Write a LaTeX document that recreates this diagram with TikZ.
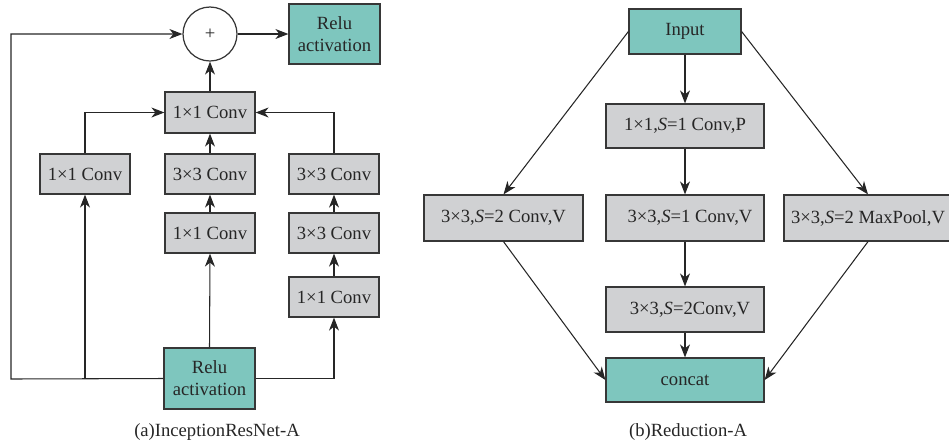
\documentclass[tikz,border=0pt]{standalone}
\usepackage{fontspec}
\setmainfont{Liberation Serif}
\usetikzlibrary{arrows.meta}
\definecolor{tealfill}{RGB}{126,198,190}
\definecolor{grayfill}{RGB}{208,209,211}
\definecolor{edge}{RGB}{55,55,55}
\begin{document}
\begin{tikzpicture}[x=0.02cm,y=-0.02cm,
  every node/.style={font=\fontsize{10.6}{12.5}\selectfont, inner sep=0pt, text=black!85},
  box/.style={draw=edge, line width=0.7pt, rectangle, align=center},
  graybox/.style={box, fill=grayfill},
  tealbox/.style={box, fill=tealfill},
  arr/.style={-{Stealth[length=2.6mm,width=2mm,inset=0.8mm]}, line width=0.6pt, draw=black!85}]
\useasboundingbox (0,0) rectangle (949,447);

% ---- (a) InceptionResNet-A ----
\node[draw=edge, line width=0.7pt, circle, minimum size=1.08cm, fill=white] (plus) at (210,34) {+};
\node[tealbox, minimum width=1.82cm, minimum height=1.2cm] (reluT) at (334.5,34) {Relu\\activation};
\node[graybox, minimum width=1.8cm, minimum height=0.82cm] (c1) at (210,112.5) {1×1 Conv};
\node[graybox, minimum width=1.8cm, minimum height=0.8cm] (b1) at (85,174) {1×1 Conv};
\node[graybox, minimum width=1.8cm, minimum height=0.8cm] (b2) at (210,174) {3×3 Conv};
\node[graybox, minimum width=1.8cm, minimum height=0.8cm] (b3) at (334,174) {3×3 Conv};
\node[graybox, minimum width=1.8cm, minimum height=0.8cm] (m2) at (210,233) {1×1 Conv};
\node[graybox, minimum width=1.8cm, minimum height=0.8cm] (r3) at (334,233) {3×3 Conv};
\node[graybox, minimum width=1.8cm, minimum height=0.8cm] (r4) at (334,297) {1×1 Conv};
\node[tealbox, minimum width=1.82cm, minimum height=1.22cm] (reluB) at (209.5,378.5) {Relu\\activation};
\coordinate (lc) at (11,379);

\draw[arr] (reluB.north) -- (m2.south);
\draw[arr] (m2.north) -- (b2.south);
\draw[arr] (b2.north) -- (c1.south);
\draw[arr] (c1.north) -- (plus.south);
\draw[arr] (plus.east) -- (reluT.west);
\draw[arr] (reluB.west) -- (lc) |- (plus.west);
\draw[arr] (b1.south |- reluB.west) -- (b1.south);
\draw[arr] (reluB.east) -| (r4.south);
\draw[arr] (r4.north) -- (r3.south);
\draw[arr] (r3.north) -- (b3.south);
\draw[arr] (b1.north) |- (c1.west);
\draw[arr] (b3.north) |- (c1.east);

\node (capa) at (217,432) {(a)InceptionResNet-A};

% ---- (b) Reduction-A ----
\node[tealbox, minimum width=2.24cm, minimum height=0.9cm] (inp) at (685,31.5) {Input};
\node[graybox, minimum width=3.16cm, minimum height=0.88cm] (p1) at (685,126) {1×1,\textit{S}=1 Conv,P};
\node[graybox, minimum width=3.18cm, minimum height=0.92cm] (L) at (503.5,218) {3×3,\textit{S}=2 Conv,V};
\node[graybox, minimum width=3.16cm, minimum height=0.92cm] (M) at (685,218) {\hspace{0.2cm}3×3,\textit{S}=1 Conv,V};
\node[graybox, minimum width=3.36cm, minimum height=0.92cm] (R) at (868,218) {3×3,\textit{S}=2 MaxPool,V};
\node[graybox, minimum width=3.16cm, minimum height=0.9cm] (M2) at (685,309.5) {\hspace{0.2cm}3×3,\textit{S}=2Conv,V};
\node[tealbox, minimum width=3.16cm, minimum height=0.88cm] (cc) at (685,380) {concat};

\draw[arr] (inp.south) -- (p1.north);
\draw[arr] (p1.south) -- (M.north);
\draw[arr] (M.south) -- (M2.north);
\draw[arr] (M2.south) -- (cc.north);
\draw[arr] (inp.west) -- (L.north);
\draw[arr] (inp.east) -- (R.north);
\draw[arr] (L.south) -- (cc.west);
\draw[arr] (R.south) -- (cc.east);

\node (capb) at (688,432) {(b)Reduction-A};
\end{tikzpicture}
\end{document}
